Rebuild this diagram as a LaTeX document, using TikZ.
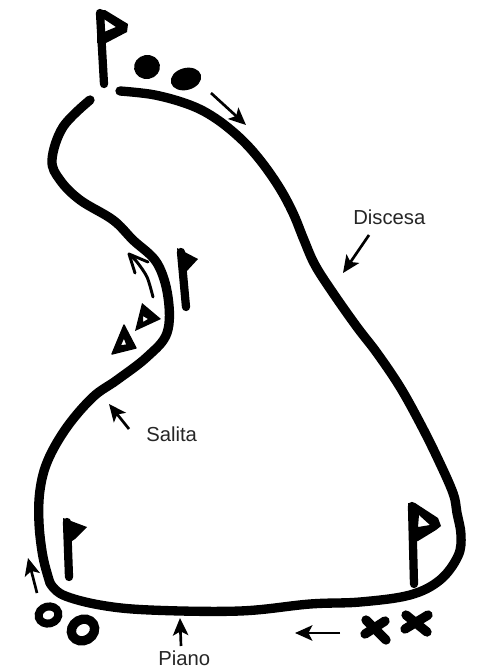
\documentclass[tikz,border=0pt]{standalone}
\usepackage{fontspec}
\setmainfont{Liberation Sans}
\usetikzlibrary{arrows.meta}
\tikzset{
  track/.style={line width=7pt,line cap=round,line join=round,black},
  pole/.style={line width=6.2pt,line cap=round,line join=round,black},
  mark stroke/.style={line width=7pt,line cap=round,black},
  thin arrow/.style={line width=2pt,black,-{Stealth[length=13pt,width=11.5pt,inset=3pt]}},
  barb/.style={line width=2.2pt,black,line cap=round},
  lab/.style={font=\fontsize{15.2pt}{18pt}\selectfont,text=black!85,inner sep=0pt}
}
\begin{document}
\begin{tikzpicture}[x=0.75pt,y=-0.75pt]
\useasboundingbox (0,0) rectangle (478,668);
\fill[white] (0,0) rectangle (478,668);
% course
\draw[track] plot[smooth,tension=0.6] coordinates {(90,100) (63,127) (52,160) (60,180) (80,200) (113,220) (133,240) (157,263) (168,297) (167,333) (147,357) (117,380) (93,397) (67,427) (48,460) (40,490) (39,523) (43,557) (50,583)};
\draw[track] plot[smooth,tension=0.6] coordinates {(50,583) (63,595) (100,605) (150,610) (240,611) (310,604) (360,602) (410,595) (440,580) (458,556) (461,535) (457,513) (453,493) (437,457) (420,423) (400,387) (377,353) (357,327) (333,293) (315,265) (304,240) (293,213) (279,187) (260,160) (240,138) (215,118) (190,105) (155,95) (120,91)};
% top flag
\draw[pole] (100,13) -- (104,84);
\fill[black,even odd rule] (97,10) -- (105,10) -- (128,24) -- (127,32) -- (106,43) -- (97,43) -- cycle
  (104,19) -- (116,27) -- (104,32) -- cycle;
% top balls
\fill[black,rotate around={10:(147,67)}] (147,67) ellipse (13 and 12);
\fill[black,rotate around={15:(186,79)}] (186,79) ellipse (15.5 and 11);
% middle flag
\draw[pole] (181,252) -- (186,307);
\fill[black] (177,248) -- (198,259) -- (186,272) -- (180,272) -- cycle;
% triangles
\fill[black,even odd rule] (142,303) -- (161,319) -- (135,331) -- cycle
  (143,316) -- (148,319) -- (143,322) -- cycle;
\filldraw[black,line width=1pt,line join=round,even odd rule] (124,325) -- (136,348) -- (112,354) -- cycle
  (124,337) -- (127,345) -- (120,346) -- cycle;
% middle arrow
\draw[barb] plot[smooth] coordinates {(153,297) (147,277) (137,262) (130,255)};
\draw[barb] (129,254) -- (135,273);
\draw[barb] (129,254) -- (148,262);
% bottom-left flag
\draw[pole] (67,522) -- (69,577);
\fill[black] (63,518) -- (87,527) -- (75,539) -- (66,545) -- cycle;
% rings
\draw[line width=6pt,rotate around={15:(48.5,615)}] (48.5,615) ellipse (10 and 8.5);
\draw[line width=7pt,rotate around={30:(83,630)}] (83,630) ellipse (12 and 10.5);
% bottom-right flag
\draw[pole] (412,506) -- (414,584);
\fill[black,even odd rule] (408,503) -- (415,503) -- (438,518) -- (441,526) -- (436,530) -- (418,541) -- (410,541) -- cycle
  (419,515) -- (430,525) -- (418,527) -- cycle;
% crosses
\draw[mark stroke] (366,620) -- (386,640);
\draw[mark stroke] (385,621) -- (365,634);
\draw[mark stroke] (406,615) -- (427,632);
\draw[mark stroke] (428,615) -- (405,629);
% thin arrows
\coordinate (a1s) at (211,93); \coordinate (a1e) at (246,125);
\draw[thin arrow] (a1s) -- (a1e);
\coordinate (a2s) at (37,593); \coordinate (a2e) at (28,558);
\draw[thin arrow] (a2s) -- (a2e);
\coordinate (a3s) at (181,646); \coordinate (a3e) at (180,618);
\draw[thin arrow] (a3s) -- (a3e);
\coordinate (a4s) at (340,633); \coordinate (a4e) at (295,633);
\draw[thin arrow] (a4s) -- (a4e);
\coordinate (a5s) at (129,429); \coordinate (a5e) at (109,404);
\draw[thin arrow] (a5s) -- (a5e);
\coordinate (a6s) at (369,235); \coordinate (a6e) at (343,273);
\draw[thin arrow] (a6s) -- (a6e);
% labels
\node[lab,anchor=base west] (disc) at (353,224) {Discesa};
\node[lab,anchor=base west] (sal) at (146,441) {Salita};
\node[lab,anchor=base west] (pia) at (158,665) {Piano};
\end{tikzpicture}
\end{document}
